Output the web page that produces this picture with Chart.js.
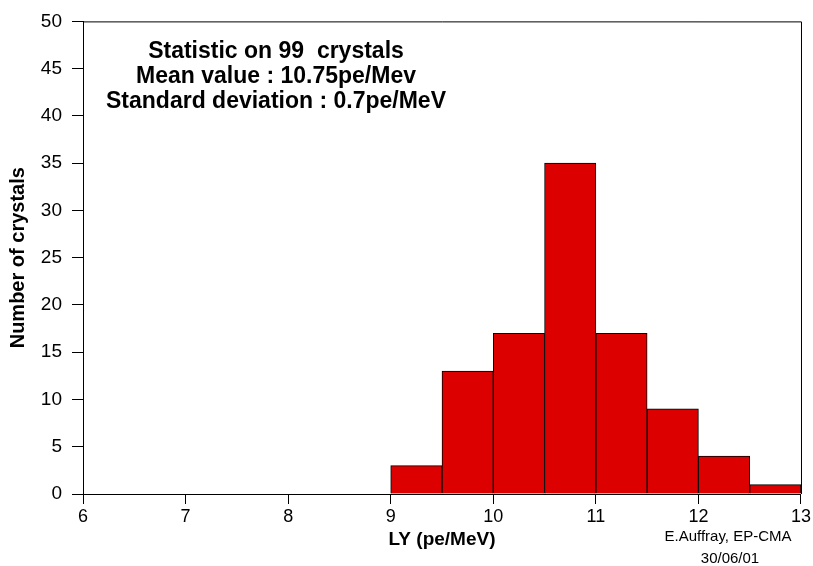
<!DOCTYPE html>
<html>
<head>
<meta charset="utf-8">
<script src="https://cdn.jsdelivr.net/npm/chart.js@4/dist/chart.umd.min.js"></script>
<style>
  html, body { margin: 0; padding: 0; background: #fff; }
  #wrap { width: 813px; height: 566px; position: relative; }
</style>
</head>
<body>
<div id="wrap"><canvas id="c" width="813" height="566"></canvas></div>
<script>
// ---- data ----
const binCenters = [9.25, 9.75, 10.25, 10.75, 11.25, 11.75, 12.25, 12.75];
const counts = [3, 13, 17, 35, 17, 9, 4, 1];
const xMin = 6, xMax = 13, xStep = 1;
const yMin = 0, yMax = 50, yStep = 5;
const statLines = [
  'Statistic on 99  crystals',
  'Mean value : 10.75pe/Mev',
  'Standard deviation : 0.7pe/MeV'
];
const footerLines = ['E.Auffray, EP-CMA', '30/06/01'];
const xTitle = 'LY (pe/MeV)';
const yTitle = 'Number of crystals';

const FONT = "'Liberation Sans', Arial, sans-serif";

const textPlugin = {
  id: 'texts',
  afterDraw(chart) {
    const ctx = chart.ctx;
    const a = chart.chartArea;
    ctx.save();
    // frame (top and right sides)
    ctx.strokeStyle = '#000';
    ctx.lineWidth = 1;
    ctx.beginPath();
    ctx.moveTo(a.left, a.top + 0.5);
    ctx.lineTo(a.right + 0.5, a.top + 0.5);
    ctx.lineTo(a.right + 0.5, a.bottom);
    ctx.stroke();
    // statistics box text
    ctx.fillStyle = '#000';
    ctx.textAlign = 'center';
    ctx.textBaseline = 'alphabetic';
    ctx.font = 'bold 23px ' + FONT;
    statLines.forEach((t, i) => ctx.fillText(t, 276, 58 + i * 25));
    // footer
    ctx.font = '15px ' + FONT;
    ctx.fillText(footerLines[0], 728, 541);
    ctx.fillText(footerLines[1], 730, 563);
    ctx.restore();
  }
};

new Chart(document.getElementById('c'), {
  type: 'bar',
  data: {
    datasets: [{
      data: binCenters.map((x, i) => ({ x: x, y: counts[i] })),
      backgroundColor: '#DD0000',
      borderColor: '#000',
      borderWidth: 1,
      barPercentage: 1,
      categoryPercentage: 1
    }]
  },
  options: {
    responsive: false,
    animation: false,
    devicePixelRatio: 1,
    layout: { padding: { top: 16, right: 11, left: 0, bottom: 0 } },
    plugins: { legend: { display: false }, tooltip: { enabled: false } },
    scales: {
      x: {
        type: 'linear',
        min: xMin, max: xMax,
        offset: false,
        grid: { display: true, drawOnChartArea: false, offset: false, tickLength: 10, color: '#000' },
        border: { display: true, color: '#000', width: 1 },
        ticks: { stepSize: xStep, color: '#000', padding: 2, maxRotation: 0, font: { size: 18, family: FONT } },
        title: { display: true, text: xTitle, color: '#000', font: { size: 19, weight: 'bold', family: FONT }, padding: { top: 0, bottom: 15 } },
        afterFit(s) { s.height = 72; }
      },
      y: {
        min: yMin, max: yMax,
        grid: { display: true, drawOnChartArea: false, tickLength: 11, color: '#000' },
        border: { display: true, color: '#000', width: 1 },
        ticks: { stepSize: yStep, color: '#000', padding: 10, font: { size: 19, family: FONT } },
        title: { display: true, text: yTitle, color: '#000', font: { size: 20, weight: 'bold', family: FONT }, padding: { top: 6, bottom: 0 } },
        afterFit(s) { s.width = 83; }
      }
    }
  },
  plugins: [textPlugin]
});
</script>
</body>
</html>
